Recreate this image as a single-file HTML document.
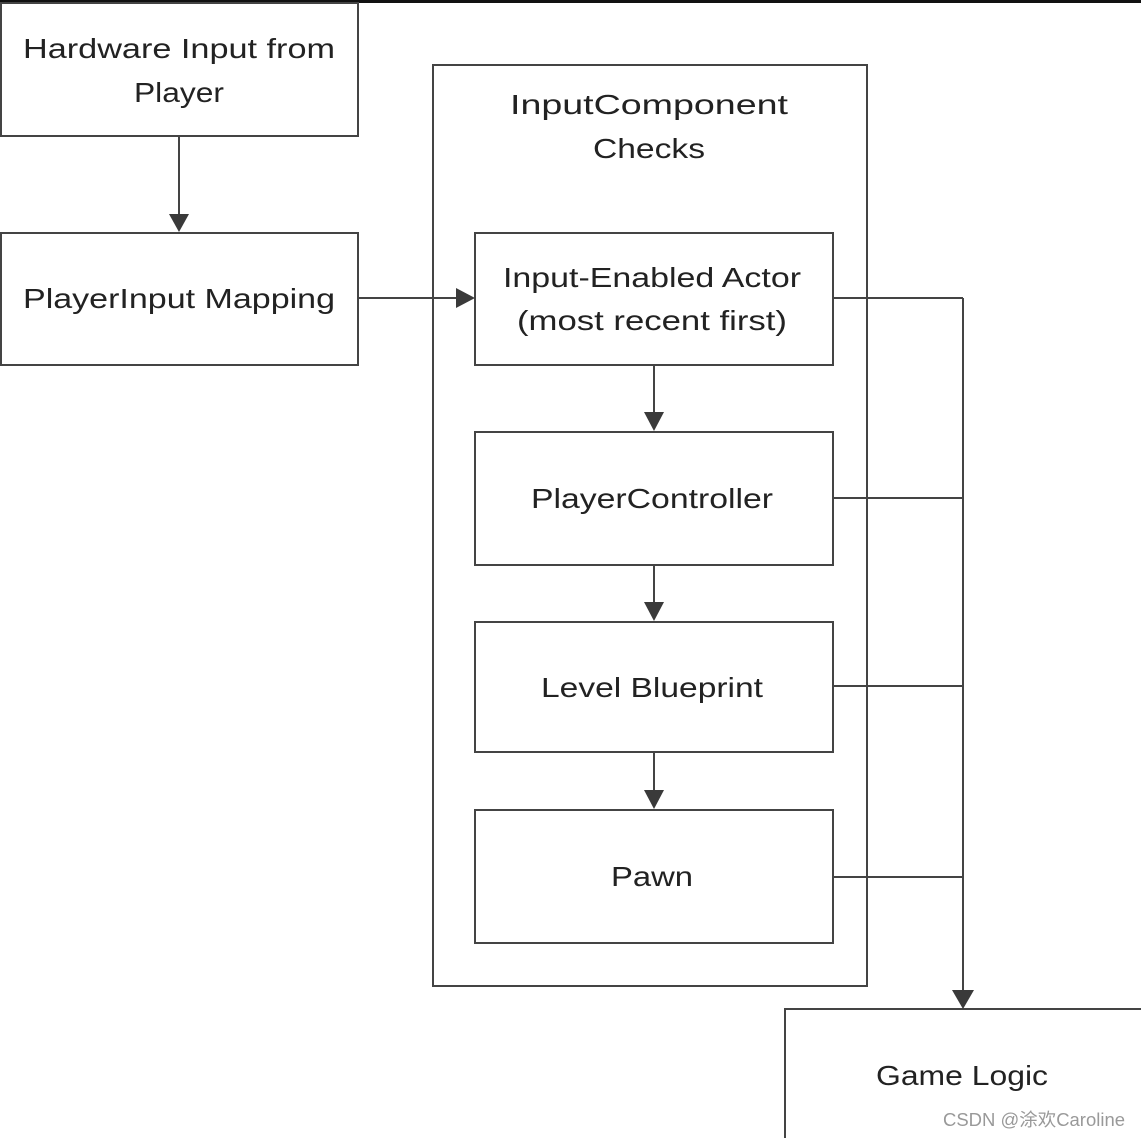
<!DOCTYPE html>
<html><head><meta charset="utf-8"><style>
html,body{margin:0;padding:0;background:#fff;}
svg{display:block;}
text{font-family:"Liberation Sans",sans-serif;font-size:28px;fill:#222;text-anchor:middle;}
</style></head><body>
<svg width="1141" height="1138" viewBox="0 0 1141 1138" xmlns="http://www.w3.org/2000/svg">
<defs><marker id="a" markerWidth="10" markerHeight="10" refX="9" refY="5" orient="auto" markerUnits="userSpaceOnUse"><path d="M0,0 L10,5 L0,10 z" fill="#3a3a3a" transform="scale(2.2) translate(-5.5,-2.7)"/></marker></defs>
<rect x="0" y="0" width="1141" height="3" fill="#111"/>
<g fill="none" stroke="#444" stroke-width="2">
<rect x="1" y="3" width="357" height="133"/>
<rect x="1" y="233" width="357" height="132"/>
<rect x="433" y="65" width="434" height="921"/>
<rect x="475" y="233" width="358" height="132"/>
<rect x="475" y="432" width="358" height="133"/>
<rect x="475" y="622" width="358" height="130"/>
<rect x="475" y="810" width="358" height="133"/>
<rect x="785" y="1009" width="370" height="140"/>
<path d="M179 136V216M358 298H458M654 365V414M654 565V604M654 752V792M963 298V992M833 298H963M833 498H963M833 686H963M833 877H963"/>
</g>
<g fill="#3a3a3a">
<path d="M169 214L189 214L179 232z"/>
<path d="M456 288L456 308L475 298z"/>
<path d="M644 412L664 412L654 431z"/>
<path d="M644 602L664 602L654 621z"/>
<path d="M644 790L664 790L654 809z"/>
<path d="M952 990L974 990L963 1009z"/>
</g>
<text x="179" y="58" textLength="312" lengthAdjust="spacingAndGlyphs">Hardware Input from</text>
<text x="179" y="102" textLength="90" lengthAdjust="spacingAndGlyphs">Player</text>
<text x="179" y="308" textLength="312" lengthAdjust="spacingAndGlyphs">PlayerInput Mapping</text>
<text x="649" y="114" textLength="278" lengthAdjust="spacingAndGlyphs">InputComponent</text>
<text x="649" y="158" textLength="112" lengthAdjust="spacingAndGlyphs">Checks</text>
<text x="652" y="287" textLength="298" lengthAdjust="spacingAndGlyphs">Input-Enabled Actor</text>
<text x="652" y="330" textLength="270" lengthAdjust="spacingAndGlyphs">(most recent first)</text>
<text x="652" y="508" textLength="242" lengthAdjust="spacingAndGlyphs">PlayerController</text>
<text x="652" y="697" textLength="222" lengthAdjust="spacingAndGlyphs">Level Blueprint</text>
<text x="652" y="886" textLength="82" lengthAdjust="spacingAndGlyphs">Pawn</text>
<text x="962" y="1085" textLength="172" lengthAdjust="spacingAndGlyphs">Game Logic</text>
<text x="1034" y="1126" style="font-family:'Liberation Sans','Noto Sans CJK SC',sans-serif;font-size:18px;fill:#999" textLength="182" lengthAdjust="spacingAndGlyphs">CSDN @涂欢Caroline</text>
</svg>
</body></html>
